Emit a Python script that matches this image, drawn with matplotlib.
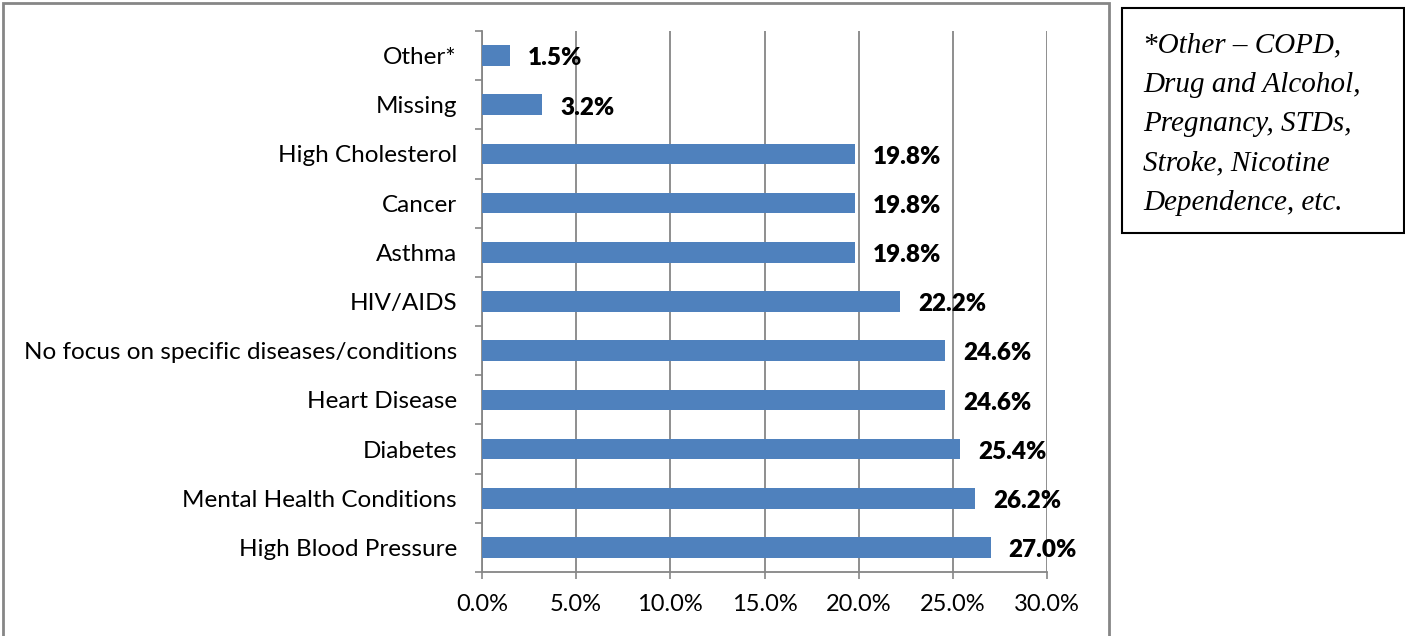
import matplotlib.pyplot as plt
from matplotlib.patches import Rectangle
from matplotlib.ticker import MultipleLocator, FuncFormatter

categories = [
    "High Blood Pressure",
    "Mental Health Conditions",
    "Diabetes",
    "Heart Disease",
    "No focus on specific diseases/conditions",
    "HIV/AIDS",
    "Asthma",
    "Cancer",
    "High Cholesterol",
    "Missing",
    "Other*",
]
values = [27.0, 26.2, 25.4, 24.6, 24.6, 22.2, 19.8, 19.8, 19.8, 3.2, 1.5]
note_text = ("*Other \u2013 COPD,\nDrug and Alcohol,\nPregnancy, STDs,\n"
             "Stroke, Nicotine\nDependence, etc.")

W, H = 1405, 636
bar_color = "#4F81BD"
grid_color = "#868686"

plt.rcParams['font.family'] = ['Lato', 'DejaVu Sans']

fig = plt.figure(figsize=(W / 100, H / 100), dpi=100)
ax = fig.add_axes([482 / W, 1 - 572 / H, (1047 - 482) / W, (572 - 31) / H])

y = range(len(categories))
ax.barh(y, values, height=0.42, color=bar_color, zorder=3)
for yi, v in zip(y, values):
    ax.annotate(f"{v:.1f}%", (v, yi), xytext=(13, -2), textcoords="offset points",
                ha="left", va="center", fontsize=17.5, fontweight="heavy", zorder=4)

ax.set_xlim(0, 30)
ax.set_ylim(-0.5, len(categories) - 0.5)
ax.xaxis.set_major_locator(MultipleLocator(5))
ax.xaxis.set_major_formatter(FuncFormatter(lambda v, p: f"{v:.1f}%"))
ax.set_yticks(list(y))
ax.set_yticklabels(categories)
ax.set_yticks([i - 0.5 for i in range(len(categories) + 1)], minor=True)
ax.tick_params(axis="y", which="major", length=0, pad=18, labelsize=17.5)
ax.tick_params(axis="y", which="minor", length=5, color=grid_color, width=1.2)
ax.tick_params(axis="x", length=5, color=grid_color, width=1.2, pad=11, labelsize=17)

ax.grid(axis="x", color=grid_color, linewidth=1.3, zorder=0)
for s in ["top", "right"]:
    ax.spines[s].set_visible(False)
for s in ["left", "bottom"]:
    ax.spines[s].set_color(grid_color)
    ax.spines[s].set_linewidth(1.3)

# outer chart frame
fig.patches.append(Rectangle((3 / W, -0.05), (1109 - 3) / W, 1.05 - 3 / H,
                             transform=fig.transFigure, fill=False,
                             edgecolor=grid_color, linewidth=2))

# note box
fig.patches.append(Rectangle((1122 / W, 1 - 233 / H), (1404 - 1122) / W, (233 - 8) / H,
                             transform=fig.transFigure, fill=False,
                             edgecolor="black", linewidth=1.5))
fig.text(1143 / W, 1 - 32 / H, note_text, ha="left", va="top",
         family="Liberation Serif", style="italic", fontsize=21, linespacing=1.68)

fig.savefig("out.png", dpi=100)
